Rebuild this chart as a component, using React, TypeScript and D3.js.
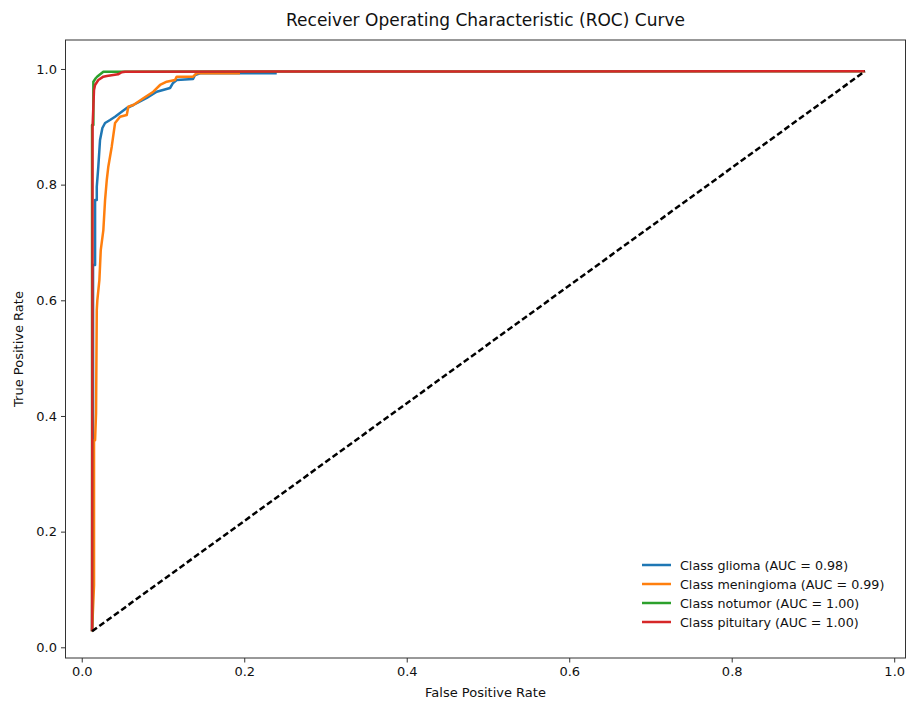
import React, { useEffect, useRef } from 'react';
import * as d3 from 'd3';

type Pt = [number, number];

const title = 'Receiver Operating Characteristic (ROC) Curve';
const xLabel = 'False Positive Rate';
const yLabel = 'True Positive Rate';
const tickValues = [0, 0.2, 0.4, 0.6, 0.8, 1.0];

const classNames = ['glioma', 'meningioma', 'notumor', 'pituitary'];
const aucValues = [0.98, 0.99, 1.0, 1.0];
const colors = ['#1f77b4', '#ff7f0e', '#2ca02c', '#d62728'];

const gliomaRoc: Pt[] = [
    [0.0127, 0.0277], [0.0139, 0.30], [0.0139, 0.6609], [0.0164, 0.6609], [0.0164, 0.7734],
    [0.0185, 0.7734], [0.0185, 0.7964], [0.0204, 0.8310], [0.0225, 0.8772], [0.0254, 0.8979],
    [0.0287, 0.9066], [0.0348, 0.9118], [0.0410, 0.9175], [0.0471, 0.9239], [0.0554, 0.9325],
    [0.0635, 0.9377], [0.0800, 0.9498], [0.0923, 0.9607], [0.1000, 0.9637], [0.1087, 0.9671],
    [0.1124, 0.9758], [0.1169, 0.9810], [0.1370, 0.9827], [0.1394, 0.9896], [0.1456, 0.9926],
    [0.2400, 0.9926],
];

const meningiomaRoc: Pt[] = [
    [0.0127, 0.0277], [0.0151, 0.1073], [0.0151, 0.3581], [0.0164, 0.3581], [0.0176, 0.4048],
    [0.0185, 0.5830], [0.0192, 0.6003], [0.0217, 0.6349], [0.0234, 0.6869], [0.0266, 0.7215],
    [0.0287, 0.7734], [0.0308, 0.8080], [0.0327, 0.8310], [0.0369, 0.8656], [0.0410, 0.9066],
    [0.0471, 0.9175], [0.0554, 0.9204], [0.0573, 0.9348], [0.0635, 0.9377], [0.0758, 0.9493],
    [0.0881, 0.9607], [0.0964, 0.9723], [0.1046, 0.9780], [0.1148, 0.9810], [0.1169, 0.9867],
    [0.1370, 0.9867], [0.1415, 0.9926], [0.1948, 0.9926],
];

const notumorRoc: Pt[] = [
    [0.0127, 0.0277], [0.0127, 0.9031], [0.0143, 0.9031], [0.0143, 0.9780], [0.0172, 0.9839],
    [0.0192, 0.9870], [0.0266, 0.9953], [0.9640, 0.9960],
];

const pituitaryRoc: Pt[] = [
    [0.0127, 0.0277], [0.0133, 0.8997], [0.0151, 0.9637], [0.0164, 0.9723], [0.0204, 0.9810],
    [0.0266, 0.9867], [0.0308, 0.9879], [0.0447, 0.9908], [0.0492, 0.9943], [0.0533, 0.9953],
    [0.9640, 0.9960],
];

const diagonal: Pt[] = [[0.0127, 0.0277], [0.9640, 0.9960]];

const rocCurves = [gliomaRoc, meningiomaRoc, notumorRoc, pituitaryRoc];

const RocChart = () => {
    const ref = useRef<SVGSVGElement | null>(null);

    useEffect(() => {
        if (!ref.current) return;
        const svg = d3.select(ref.current);
        svg.selectAll('*').remove();

        const left = 65.5, right = 905.5, top = 40, bottom = 658;
        const font = 'DejaVu Sans, sans-serif';

        const x = d3.scaleLinear().domain([-0.02, 1.0139]).range([left, right]);
        const y = d3.scaleLinear().domain([-0.0185, 1.0501]).range([bottom, top]);

        const line = d3.line<Pt>().x(d => x(d[0])).y(d => y(d[1]));

        const plot = svg.append('g');

        rocCurves.forEach((data, i) => {
            plot.append('path')
                .datum(data)
                .attr('fill', 'none')
                .attr('stroke', colors[i])
                .attr('stroke-width', 2.5)
                .attr('stroke-linejoin', 'round')
                .attr('d', line);
        });

        plot.append('path')
            .datum(diagonal)
            .attr('fill', 'none')
            .attr('stroke', '#000')
            .attr('stroke-width', 2.5)
            .attr('stroke-dasharray', '6,3')
            .attr('d', line);

        // spines
        svg.append('rect')
            .attr('x', left).attr('y', top)
            .attr('width', right - left).attr('height', bottom - top)
            .attr('fill', 'none').attr('stroke', '#333').attr('stroke-width', 1);

        const xAxis = svg.append('g')
            .attr('transform', `translate(0,${bottom})`)
            .call(d3.axisBottom(x).tickValues(tickValues).tickFormat(d3.format('.1f')).tickSize(4.5).tickPadding(4));
        const yAxis = svg.append('g')
            .attr('transform', `translate(${left},0)`)
            .call(d3.axisLeft(y).tickValues(tickValues).tickFormat(d3.format('.1f')).tickSize(4.5).tickPadding(4));
        [xAxis, yAxis].forEach(a => {
            a.select('.domain').remove();
            a.selectAll('line').attr('stroke', '#333');
            a.selectAll('text').attr('font-family', font).attr('font-size', 13).attr('fill', '#111');
        });

        svg.append('text')
            .attr('x', (left + right) / 2).attr('y', 26)
            .attr('text-anchor', 'middle')
            .attr('font-family', font).attr('font-size', 17).attr('fill', '#111')
            .text(title);

        svg.append('text')
            .attr('x', (left + right) / 2).attr('y', 697)
            .attr('text-anchor', 'middle')
            .attr('font-family', font).attr('font-size', 13).attr('fill', '#111')
            .text(xLabel);

        svg.append('text')
            .attr('transform', `translate(23,${(top + bottom) / 2}) rotate(-90)`)
            .attr('text-anchor', 'middle')
            .attr('font-family', font).attr('font-size', 13).attr('fill', '#111')
            .text(yLabel);

        const legend = svg.append('g').attr('transform', 'translate(642,565)');
        classNames.forEach((name, i) => {
            const row = legend.append('g').attr('transform', `translate(0,${i * 19})`);
            row.append('line')
                .attr('x1', 0).attr('x2', 29)
                .attr('stroke', colors[i]).attr('stroke-width', 2.5);
            row.append('text')
                .attr('x', 38).attr('y', 4.5)
                .attr('font-family', font).attr('font-size', 12.7).attr('fill', '#111')
                .text(`Class ${name} (AUC = ${aucValues[i].toFixed(2)})`);
        });
    }, []);

    return (
        <svg
            ref={ref}
            width={906}
            height={701}
            style={{ position: 'absolute', left: 0, top: 0, background: '#fff' }}
        />
    );
};

export default function App() {
    return <RocChart />;
}
